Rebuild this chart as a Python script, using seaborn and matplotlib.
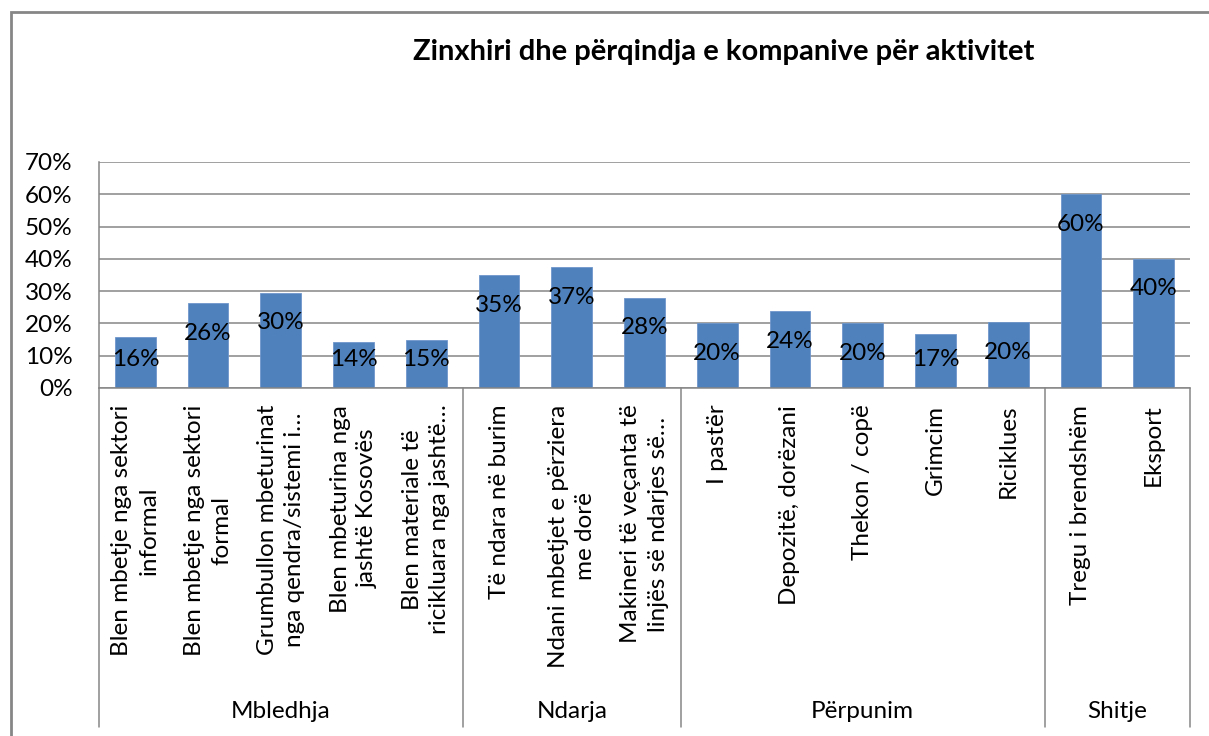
import matplotlib
matplotlib.use("Agg")
import matplotlib.pyplot as plt
import matplotlib.transforms as mtrans
from matplotlib.patches import Rectangle
from matplotlib.lines import Line2D
from matplotlib.ticker import PercentFormatter
import seaborn as sns
import pandas as pd

categories = [
    "Blen mbetje nga sektori\ninformal",
    "Blen mbetje nga sektori\nformal",
    "Grumbullon mbeturinat\nnga qendra/sistemi i…",
    "Blen mbeturina nga\njashtë Kosovës",
    "Blen materiale të\nricikluara nga jashtë…",
    "Të ndara në burim",
    "Ndani mbetjet e përziera\nme dorë",
    "Makineri të veçanta të\nlinjës së ndarjes së…",
    "I pastër",
    "Depozitë, dorëzani",
    "Thekon / copë",
    "Grimcim",
    "Riciklues",
    "Tregu i brendshëm",
    "Eksport",
]
values = [0.158, 0.263, 0.295, 0.142, 0.149,
          0.350, 0.374, 0.279,
          0.201, 0.238, 0.200, 0.167, 0.204,
          0.600, 0.400]
labels = ["16%", "26%", "30%", "14%", "15%",
          "35%", "37%", "28%",
          "20%", "24%", "20%", "17%", "20%",
          "60%", "40%"]
groups = ["Mbledhja", "Ndarja", "Përpunim", "Shitje"]
group_sizes = [5, 3, 5, 2]
title = "Zinxhiri dhe përqindja e kompanive për aktivitet"

sns.set_style("white")
plt.rcParams["font.family"] = ["Lato", "DejaVu Sans"]

FS = 17.5
W, H = 1209, 736
fig = plt.figure(figsize=(W / 100, H / 100), dpi=100)
ax = fig.add_axes([99 / W, (H - 388) / H, (1190 - 99) / W, (388 - 162) / H])

df = pd.DataFrame({"cat": categories, "val": values})
sns.barplot(data=df, x="cat", y="val", color="#4F81BD", saturation=1,
            width=0.56, ax=ax, edgecolor="#6E96CB", linewidth=0.6)

ax.set_ylim(0, 0.7)
ax.set_xlim(-0.5, len(categories) - 0.5)
ax.set_yticks([i / 10 for i in range(8)])
ax.yaxis.set_major_formatter(PercentFormatter(1.0, decimals=0))
ax.yaxis.grid(True, color="#868686", linewidth=1.1)
ax.set_axisbelow(True)
ax.set_xlabel("")
ax.set_ylabel("")
for s in ["top", "right"]:
    ax.spines[s].set_visible(False)
for s in ["left", "bottom"]:
    ax.spines[s].set_color("#868686")
    ax.spines[s].set_linewidth(1.1)
ax.tick_params(axis="y", length=0, pad=19, labelsize=FS, labelcolor="black")
ax.tick_params(axis="x", length=0, pad=12, labelsize=FS, labelcolor="black")
ax.set_xticks(range(len(categories)))
ax.set_xticklabels(categories, rotation=90, ha="center", va="top",
                   multialignment="center", linespacing=1.36)

# data labels
for i, (v, lab) in enumerate(zip(values, labels)):
    y = max(v - 0.093, 0.087)
    ax.text(i, y, lab, ha="center", va="center", fontsize=FS, color="black")

# group separators and labels
bt = mtrans.blended_transform_factory(ax.transData, fig.transFigure)
y0 = (H - 388) / H
y1 = (H - 727) / H
bounds = [-0.5]
for n in group_sizes:
    bounds.append(bounds[-1] + n)
for b in bounds:
    fig.add_artist(Line2D([b, b], [y0, y1], transform=bt, color="#868686",
                          linewidth=1.1, clip_on=False))
for gi, g in enumerate(groups):
    cx = (bounds[gi] + bounds[gi + 1]) / 2
    fig.text(cx, (H - 712) / H, g, transform=bt, ha="center", va="center",
             fontsize=FS, color="black")

# title
fig.text(724 / W, (H - 52) / H, title, ha="center", va="center",
         fontsize=21, fontweight="bold", color="black")

# chart area border (left & top visible)
fig.add_artist(Rectangle((11 / W, -0.1), 1.2, (H - 12) / H + 0.1,
                         transform=fig.transFigure, fill=False,
                         edgecolor="#868686", linewidth=2))

fig.savefig("out.png", dpi=100)
